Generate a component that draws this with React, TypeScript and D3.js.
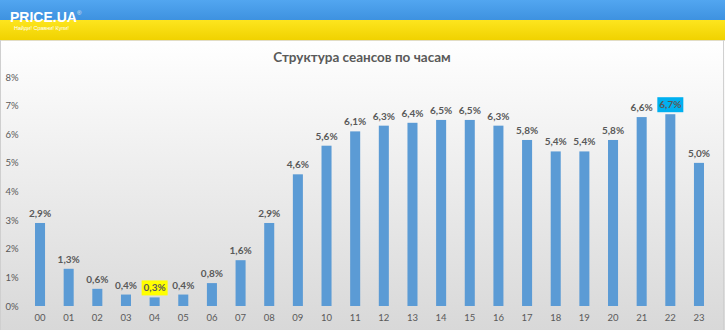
import { useEffect, useRef } from 'react'
import * as d3 from 'd3'

const HOURS = ['00','01','02','03','04','05','06','07','08','09','10','11','12','13','14','15','16','17','18','19','20','21','22','23']
const SHARES = [2.9, 1.3, 0.6, 0.4, 0.3, 0.4, 0.8, 1.6, 2.9, 4.6, 5.6, 6.1, 6.3, 6.4, 6.5, 6.5, 6.3, 5.8, 5.4, 5.4, 5.8, 6.6, 6.7, 5.0]
const Y_TICKS = [0, 1, 2, 3, 4, 5, 6, 7, 8]
const HIGHLIGHTS: Record<string, string> = { '04': '#ffff00', '22': '#00b0f0' }
const TITLE = 'Структура сеансов по часам'

const W = 725
const H = 330
const FONT = 'Lato, "Open Sans", sans-serif'
const TEXT = '#595959'
const BAR = '#5b9bd5'

export default function App() {
  const svgRef = useRef<SVGSVGElement>(null)

  useEffect(() => {
    const svg = d3.select(svgRef.current)
    svg.selectAll('*').remove()

    const defs = svg.append('defs')
    const bg = defs.append('linearGradient').attr('id', 'bg').attr('x1', 0).attr('y1', 0).attr('x2', 0).attr('y2', 1)
    bg.append('stop').attr('offset', '0%').attr('stop-color', '#ffffff')
    bg.append('stop').attr('offset', '100%').attr('stop-color', '#d8d8d8')
    const blue = defs.append('linearGradient').attr('id', 'blue').attr('x1', 0).attr('y1', 0).attr('x2', 0).attr('y2', 1)
    blue.append('stop').attr('offset', '0%').attr('stop-color', '#52a6f0')
    blue.append('stop').attr('offset', '100%').attr('stop-color', '#3e92e0')
    const yel = defs.append('linearGradient').attr('id', 'yel').attr('x1', 0).attr('y1', 0).attr('x2', 0).attr('y2', 1)
    yel.append('stop').attr('offset', '0%').attr('stop-color', '#fde51e')
    yel.append('stop').attr('offset', '100%').attr('stop-color', '#f0d200')

    // header bands + logo
    svg.append('rect').attr('x', 0).attr('y', 0).attr('width', W).attr('height', 20).attr('fill', 'url(#blue)')
    svg.append('rect').attr('x', 0).attr('y', 20).attr('width', W).attr('height', 20).attr('fill', 'url(#yel)')
    svg.append('text').attr('x', 10).attr('y', 21.5).attr('font-family', 'Arial, "Liberation Sans", sans-serif')
      .attr('font-weight', 700).attr('font-size', 14).attr('fill', '#fff').text('PRICE.UA')
    svg.append('text').attr('x', 77).attr('y', 15).attr('font-family', 'Arial, sans-serif')
      .attr('font-size', 6).attr('fill', '#e8e8e8').text('®')
    svg.append('text').attr('x', 14).attr('y', 29.5).attr('font-family', 'Arial, sans-serif')
      .attr('font-size', 5.5).attr('fill', '#fff').text('Найди! Сравни! Купи!')

    // chart area
    svg.append('rect').attr('x', 0).attr('y', 40).attr('width', W).attr('height', H - 40).attr('fill', 'url(#bg)')
    svg.append('line').attr('x1', 0).attr('x2', W).attr('y1', 40.5).attr('y2', 40.5).attr('stroke', '#e2ddc6')
    svg.append('line').attr('x1', 0.5).attr('x2', 0.5).attr('y1', 40).attr('y2', H).attr('stroke', '#cfcfcf')
    svg.append('line').attr('x1', 723.5).attr('x2', 723.5).attr('y1', 40).attr('y2', H).attr('stroke', '#d0d0d0')

    svg.append('text').attr('x', 362).attr('y', 62).attr('text-anchor', 'middle')
      .attr('font-family', FONT).attr('font-weight', 700).attr('font-size', 13.5).attr('fill', TEXT).text(TITLE)

    const x = d3.scaleBand().domain(HOURS).range([25.7, 713.3]).paddingInner(0.65).paddingOuter(0.325)
    const y = d3.scaleLinear().domain([0, 8]).range([306, 77])
    const cx = (h: string) => x(h)! + x.bandwidth() / 2

    // y axis labels
    svg.append('g').selectAll('text').data(Y_TICKS).join('text')
      .attr('x', 12).attr('y', d => y(d) + 3.5).attr('text-anchor', 'middle')
      .attr('font-family', FONT).attr('font-size', 9.5).attr('fill', TEXT)
      .text(d => `${d}%`)

    // x axis labels
    svg.append('g').selectAll('text').data(HOURS).join('text')
      .attr('x', d => cx(d)).attr('y', 321).attr('text-anchor', 'middle')
      .attr('font-family', FONT).attr('font-size', 9.5).attr('fill', TEXT)
      .text(d => d)

    const rows = HOURS.map((h, i) => ({ h, v: SHARES[i] }))

    // bars
    svg.append('g').selectAll('rect').data(rows).join('rect')
      .attr('x', d => x(d.h)!).attr('width', x.bandwidth())
      .attr('y', d => y(d.v)).attr('height', d => y(0) - y(d.v))
      .attr('fill', BAR)

    // value labels (two highlighted with a box)
    const lbl = svg.append('g').selectAll('g').data(rows).join('g')
      .attr('transform', d => `translate(${cx(d.h)},${y(d.v) - 6})`)
    lbl.filter(d => HIGHLIGHTS[d.h] != null).append('rect')
      .attr('x', -13).attr('y', -11).attr('width', 26).attr('height', 15)
      .attr('fill', d => HIGHLIGHTS[d.h])
    lbl.append('text').attr('text-anchor', 'middle')
      .attr('font-family', FONT).attr('font-weight', 700).attr('font-size', 10).attr('fill', TEXT)
      .text(d => `${d.v.toFixed(1).replace('.', ',')}%`)
  }, [])

  return (
    <>
      <style>{'body{margin:0}'}</style>
      <svg ref={svgRef} width={W} height={H} style={{ display: 'block' }} />
    </>
  )
}
